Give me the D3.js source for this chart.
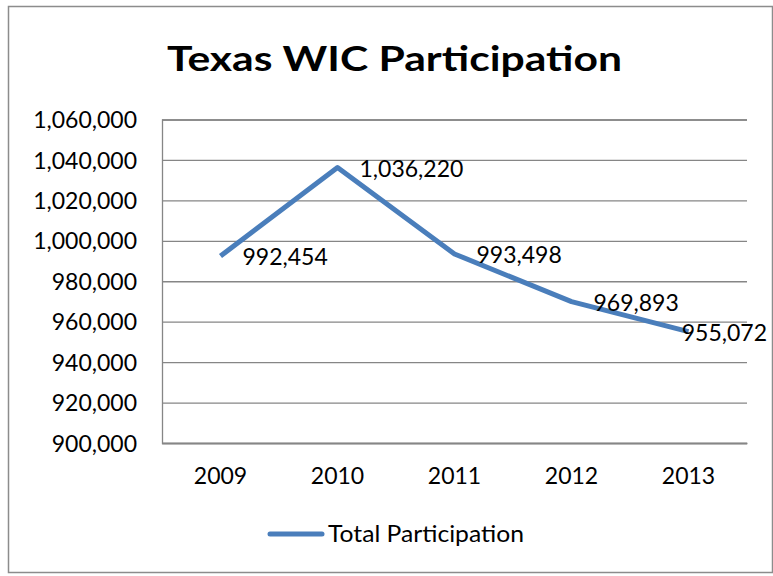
<!DOCTYPE html>
<html>
<head>
<meta charset="utf-8">
<script src="https://cdn.jsdelivr.net/npm/d3@7"></script>
<style>
  html, body { margin: 0; padding: 0; background: #fff; }
  svg { display: block; }
  text { font-family: Lato, "Open Sans", "Liberation Sans", sans-serif; fill: #000; }
</style>
</head>
<body>
<svg id="chart" width="773" height="576"></svg>
<script>
const title = "Texas WIC Participation";
const seriesName = "Total Participation";
const years = ["2009", "2010", "2011", "2012", "2013"];
const participation = [992454, 1036220, 993498, 969893, 955072];
const yTicks = [900000, 920000, 940000, 960000, 980000, 1000000, 1020000, 1040000, 1060000];

const W = 773, H = 576;
const plot = { left: 162, right: 747, top: 119.5, bottom: 443 };
const lineColor = "#4A7EBB";
const gridColor = "#868686";
const fs = 23;
const fmt = d3.format(",");

const svg = d3.select("#chart");

// outer chart border
svg.append("rect")
  .attr("x", 8.5).attr("y", 6.5)
  .attr("width", 764).attr("height", 566)
  .attr("fill", "#fff")
  .attr("stroke", "#8c8c8c").attr("stroke-width", 1.5);

// title
svg.append("text")
  .attr("x", 394.5).attr("y", 71)
  .attr("text-anchor", "middle")
  .attr("font-size", 35).attr("font-weight", "bold")
  .attr("textLength", 455).attr("lengthAdjust", "spacingAndGlyphs")
  .text(title);

const x = d3.scaleBand().domain(years).range([plot.left, plot.right]);
const y = d3.scaleLinear().domain([900000, 1060000]).range([plot.bottom, plot.top]);

// y axis with gridlines
const yAxis = d3.axisLeft(y).tickValues(yTicks).tickFormat(fmt)
  .tickSize(-(plot.right - plot.left)).tickPadding(25);
const gy = svg.append("g").attr("transform", `translate(${plot.left},0)`).call(yAxis);
gy.select(".domain").attr("stroke", gridColor).attr("stroke-width", 1.3);
gy.selectAll(".tick line").attr("stroke", gridColor).attr("stroke-width", 1.3);
gy.selectAll(".tick text")
  .attr("font-size", fs)
  .attr("font-family", "Lato, 'Open Sans', sans-serif")
  .attr("fill", "#000")
  .attr("dy", "0.35em");

// x axis
const xAxis = d3.axisBottom(x).tickSize(0).tickPadding(33);
const gx = svg.append("g").attr("transform", `translate(0,${plot.bottom})`).call(xAxis);
gx.select(".domain").attr("stroke", gridColor).attr("stroke-width", 1.3);
gx.selectAll(".tick text")
  .attr("font-size", fs)
  .attr("font-family", "Lato, 'Open Sans', sans-serif")
  .attr("fill", "#000")
  .attr("dy", "0.35em");

// line
const pts = years.map((yr, i) => ({ yr, v: participation[i] }));
const line = d3.line()
  .x(d => x(d.yr) + x.bandwidth() / 2)
  .y(d => y(d.v));
svg.append("path")
  .datum(pts)
  .attr("d", line)
  .attr("fill", "none")
  .attr("stroke", lineColor)
  .attr("stroke-width", 5)
  .attr("stroke-linejoin", "round");

// data labels (right of point, kept inside chart area)
const labels = svg.append("g");
pts.forEach(d => {
  const px = x(d.yr) + x.bandwidth() / 2;
  const py = y(d.v);
  const t = labels.append("text")
    .attr("font-size", fs)
    .attr("y", py + 1)
    .attr("dy", "0.35em")
    .text(fmt(d.v));
  const w = t.node().getComputedTextLength();
  const lx = Math.min(px + 22, 767 - w);
  t.attr("x", lx);
});

// legend
const legY = 534;
svg.append("line")
  .attr("x1", 270).attr("x2", 322)
  .attr("y1", legY).attr("y2", legY)
  .attr("stroke", lineColor).attr("stroke-width", 5)
  .attr("stroke-linecap", "round");
svg.append("text")
  .attr("x", 328).attr("y", legY)
  .attr("dy", "0.35em")
  .attr("font-size", fs)
  .attr("textLength", 196).attr("lengthAdjust", "spacingAndGlyphs")
  .text(seriesName);
</script>
</body>
</html>
